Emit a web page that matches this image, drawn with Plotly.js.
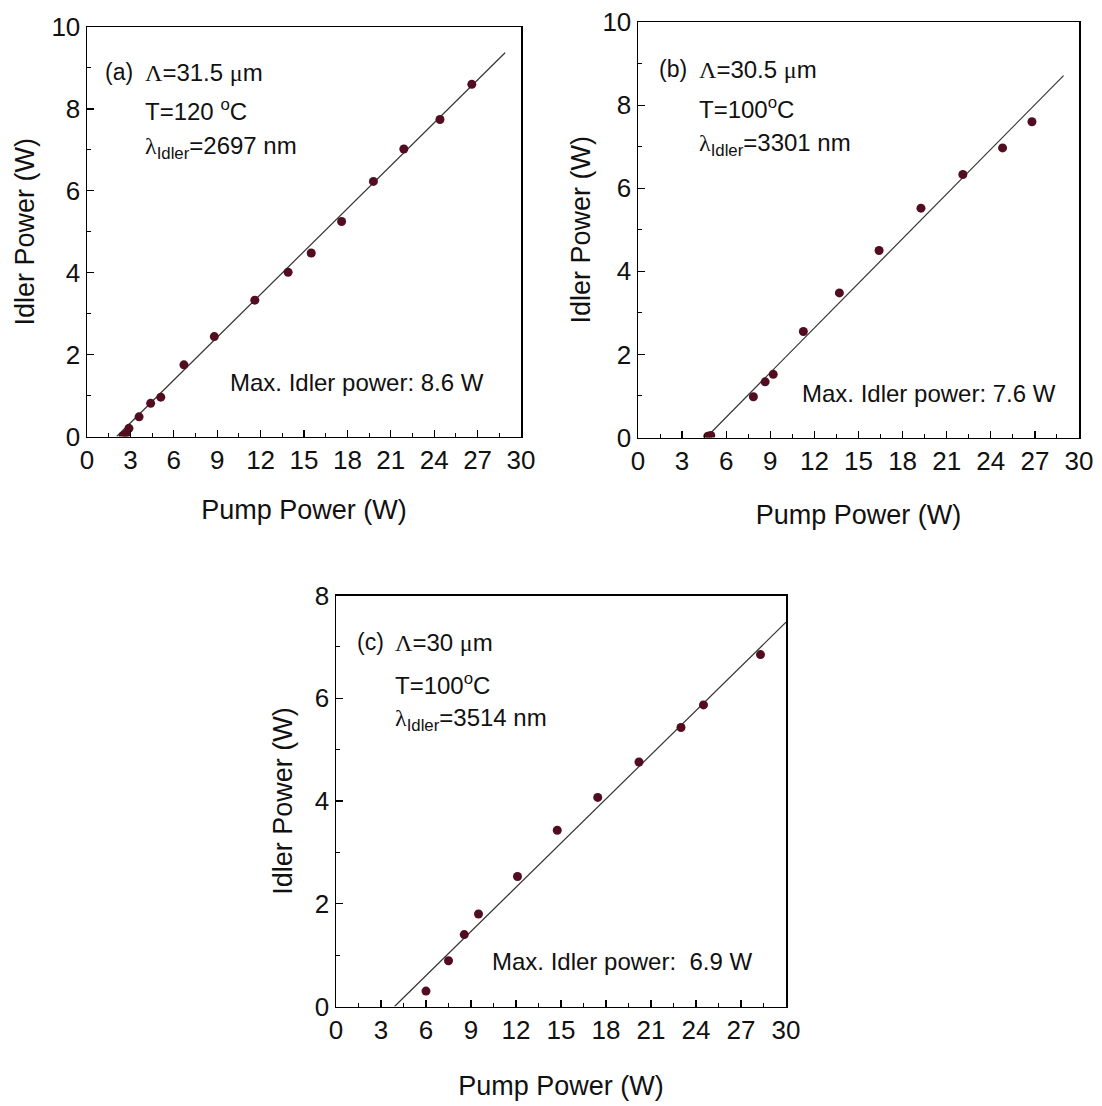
<!DOCTYPE html>
<html><head><meta charset="utf-8">
<script src="https://cdn.plot.ly/plotly-3.0.1.min.js"></script>
<style>html,body{margin:0;padding:0;background:#fff}</style>
</head><body>
<div id="chart" style="width:1102px;height:1106px"></div>
<script>
// Panel (a): Λ = 31.5 µm, T = 120 °C
const pumpA  = [2.5, 2.7, 2.9, 3.6, 4.4, 5.1, 6.7, 8.8, 11.6, 13.9, 15.5, 17.6, 19.8, 21.9, 24.4, 26.6];
const idlerA = [0.02, 0.07, 0.2, 0.48, 0.81, 0.96, 1.75, 2.44, 3.33, 4.01, 4.48, 5.25, 6.23, 7.02, 7.74, 8.6];
const fitAx  = [2.05, 28.9];
const fitAy  = [0, 9.37];

// Panel (b): Λ = 30.5 µm, T = 100 °C
const pumpB  = [4.75, 4.95, 7.85, 8.65, 9.2, 11.25, 13.7, 16.4, 19.25, 22.1, 24.8, 26.8];
const idlerB = [0.03, 0.05, 0.98, 1.34, 1.52, 2.55, 3.48, 4.5, 5.52, 6.33, 6.97, 7.6];
const fitBx  = [4.64, 28.95];
const fitBy  = [0, 8.71];

// Panel (c): Λ = 30 µm, T = 100 °C
const pumpC  = [6.0, 7.5, 8.55, 9.5, 12.1, 14.75, 17.45, 20.2, 23.0, 24.5, 28.3];
const idlerC = [0.3, 0.89, 1.4, 1.8, 2.53, 3.43, 4.07, 4.76, 5.43, 5.87, 6.85];
const fitCx  = [3.9, 30];
const fitCy  = [0, 7.48];

const xTitle = 'Pump Power (W)';
const yTitle = 'Idler Power (W)';
const labelsA = ['(a)', 'Λ=31.5 μm', 'T=120 <sup>o</sup>C', 'λ<sub>Idler</sub>=2697 nm', 'Max. Idler power: 8.6 W'];
const labelsB = ['(b)', 'Λ=30.5 μm', 'T=100<sup>o</sup>C', 'λ<sub>Idler</sub>=3301 nm', 'Max. Idler power: 7.6 W'];
const labelsC = ['(c)', 'Λ=30 μm', 'T=100<sup>o</sup>C', 'λ<sub>Idler</sub>=3514 nm', 'Max. Idler power:  6.9 W'];

const FONT = 'Liberation Sans, Arial, sans-serif';
const MARK = '#520e20';

function fitTrace(x, y, xa, ya) {
  return {x: x, y: y, xaxis: xa, yaxis: ya, mode: 'lines', type: 'scatter',
          line: {color: '#333', width: 1.2}, hoverinfo: 'skip', showlegend: false};
}
function ptTrace(x, y, xa, ya) {
  return {x: x, y: y, xaxis: xa, yaxis: ya, mode: 'markers', type: 'scatter',
          marker: {color: MARK, size: 9, line: {width: 0}}, showlegend: false};
}
const data = [
  fitTrace(fitAx, fitAy, 'x', 'y'), ptTrace(pumpA, idlerA, 'x', 'y'),
  fitTrace(fitBx, fitBy, 'x2', 'y2'), ptTrace(pumpB, idlerB, 'x2', 'y2'),
  fitTrace(fitCx, fitCy, 'x3', 'y3'), ptTrace(pumpC, idlerC, 'x3', 'y3')
];

function axis(domain, range, dtick, minor, anchor, title, standoff) {
  return {
    domain: domain, range: range, dtick: dtick, tick0: 0, anchor: anchor,
    ticks: 'inside', ticklen: 7, tickwidth: 1.2, tickcolor: '#000',
    showline: true, linecolor: '#000', linewidth: 1.5, mirror: true,
    showgrid: false, zeroline: false, fixedrange: true,
    tickfont: {family: FONT, size: 26, color: '#111'},
    minor: {dtick: minor, tick0: 0, ticks: 'inside', ticklen: 4, tickwidth: 1, tickcolor: '#000', showgrid: false},
    title: {text: title, font: {family: FONT, size: 27, color: '#111'}, standoff: standoff}
  };
}

function notes(labels, xr, yr, xa, xb, ys, xm, ym) {
  const base = {xref: xr, yref: yr, showarrow: false, xanchor: 'left', yanchor: 'middle'};
  const serif = s => s.replace('Λ', '<span style="font-family:Liberation Serif">Λ</span>')
                      .replace('μ', '<span style="font-family:Liberation Serif">μ</span>')
                      .replace('λ', '<span style="font-family:Liberation Serif">λ</span>');
  return [
    Object.assign({}, base, {x: xa, y: ys[0], text: labels[0], font: {family: FONT, size: 23, color: '#111'}}),
    Object.assign({}, base, {x: xb, y: ys[0], text: serif(labels[1]), font: {family: FONT, size: 24, color: '#111'}}),
    Object.assign({}, base, {x: xb, y: ys[1], text: labels[2], font: {family: FONT, size: 24, color: '#111'}}),
    Object.assign({}, base, {x: xb, y: ys[2], text: serif(labels[3]), font: {family: FONT, size: 24, color: '#111'}}),
    Object.assign({}, base, {x: xm, y: ym, text: labels[4], font: {family: FONT, size: 24, color: '#111'}})
  ];
}

const layout = {
  width: 1102, height: 1106,
  margin: {l: 0, r: 0, t: 0, b: 0},
  paper_bgcolor: '#fff', plot_bgcolor: '#fff',
  showlegend: false,
  xaxis:  axis([87/1102, 521/1102], [0, 30], 3, 1.5, 'y',  xTitle, 26),
  yaxis:  axis([1-436.5/1106, 1-27/1106], [0, 10], 2, 1, 'x', yTitle, 9),
  xaxis2: axis([638/1102, 1079/1102], [0, 30], 3, 1.5, 'y2', xTitle, 30),
  yaxis2: axis([1-437.5/1106, 1-22/1106], [0, 10], 2, 1, 'x2', yTitle, 4),
  xaxis3: axis([336/1102, 786/1102], [0, 30], 3, 1.5, 'y3', xTitle, 32),
  yaxis3: axis([1-1006.5/1106, 1-595.5/1106], [0, 8], 2, 1, 'x3', yTitle, 14),
  annotations: [].concat(
    notes(labelsA, 'x', 'y', 1.1, 3.88, [8.89, 7.98, 7.05], 9.76, 1.31),
    notes(labelsB, 'x2', 'y2', 1.3, 4.02, [8.86, 7.94, 7.05], 11.04, 1.07),
    notes(labelsC, 'x3', 'y3', 1.27, 3.81, [7.09, 6.27, 5.59], 10.29, 0.87)
  )
};

Plotly.newPlot('chart', data, layout, {staticPlot: true, displayModeBar: false});
</script>
</body></html>
